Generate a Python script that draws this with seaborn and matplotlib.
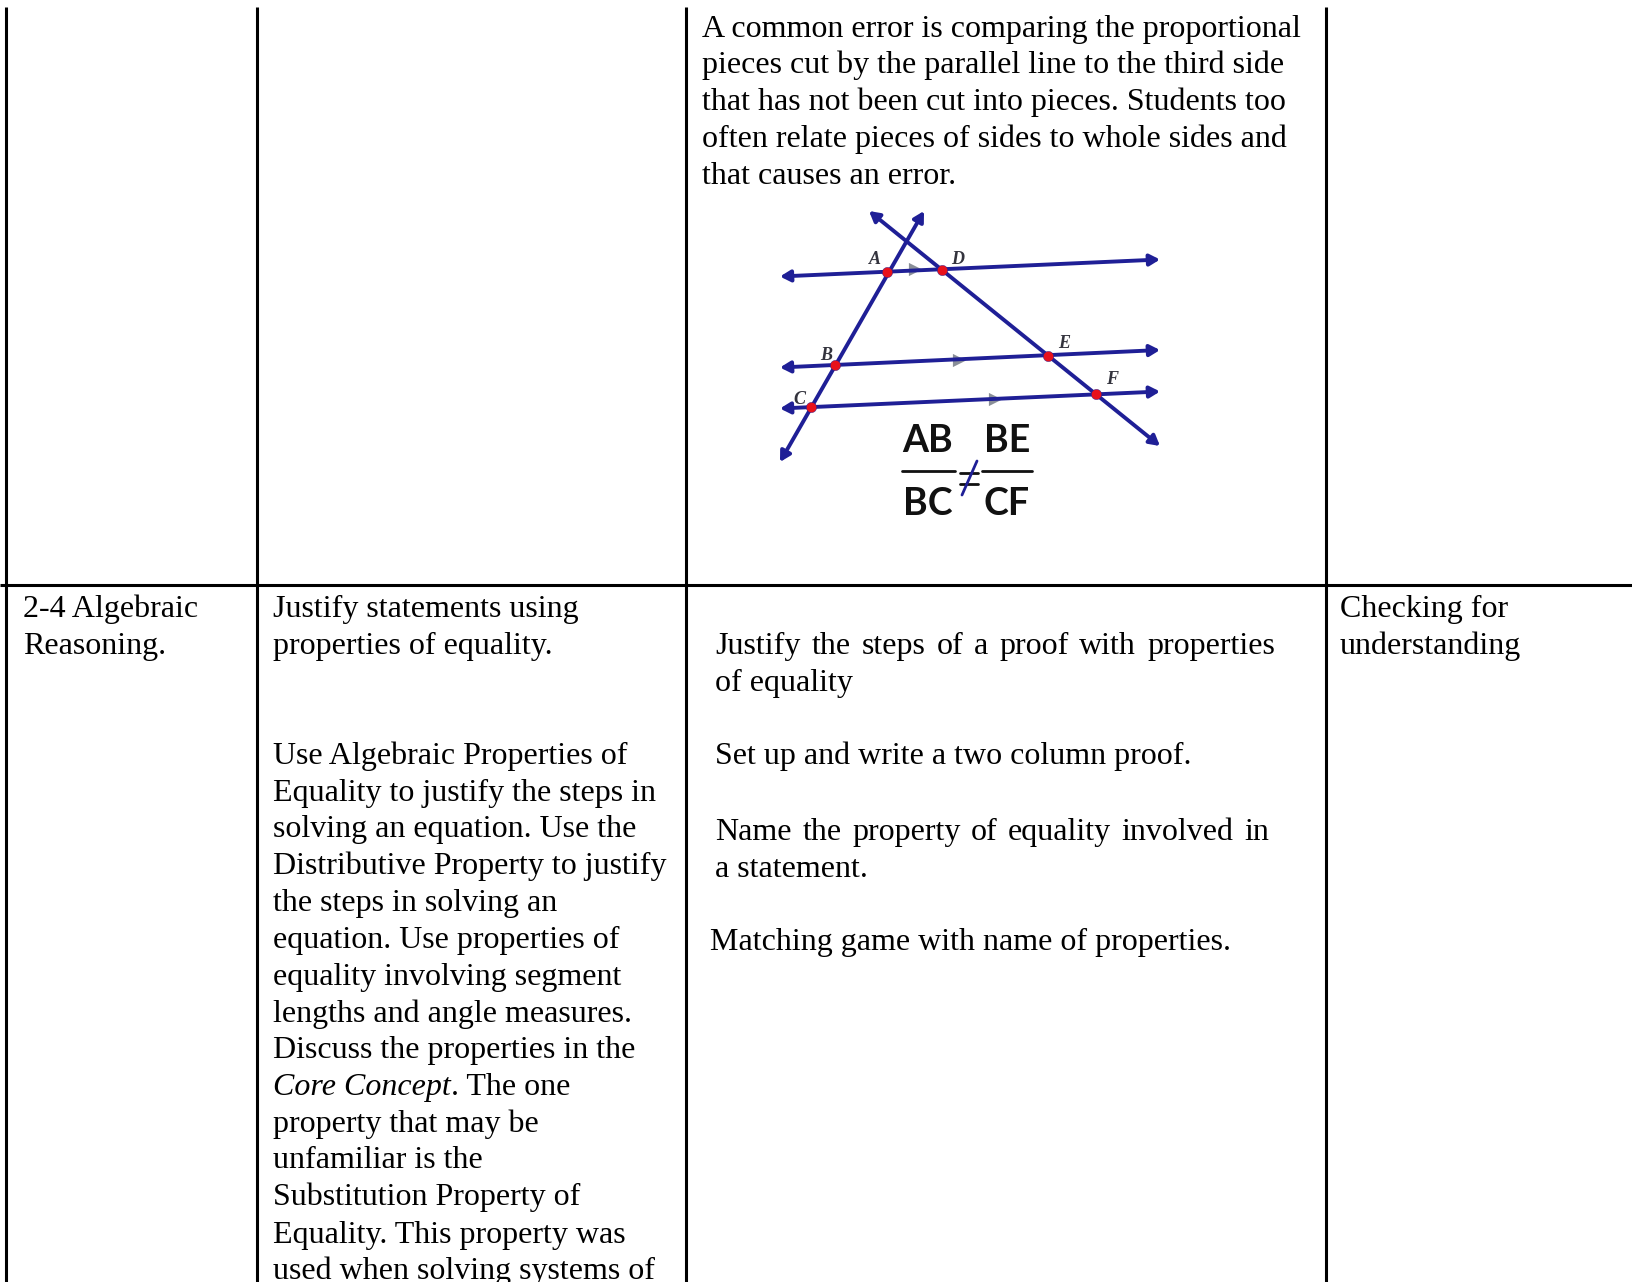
import pandas as pd
import matplotlib
matplotlib.use('Agg')
import matplotlib.pyplot as plt
import seaborn as sns

# table text: (x left, baseline y, text)
top_note = ['A common error is comparing the proportional',
            'pieces cut by the parallel line to the third side',
            'that has not been cut into pieces. Students too',
            'often relate pieces of sides to whole sides and',
            'that causes an error.']
top_note_y = [37, 73.5, 110, 147, 183.5]

col1_lines = ['2-4 Algebraic', 'Reasoning.']
col1_y = [617, 654]

col2_lines = ['Justify statements using', 'properties of equality.',
              'Use Algebraic Properties of', 'Equality to justify the steps in',
              'solving an equation. Use the', 'Distributive Property to justify',
              'the steps in solving an', 'equation. Use properties of',
              'equality involving segment', 'lengths and angle measures.',
              'Discuss the properties in the', None,
              'property that may be', 'unfamiliar is the',
              'Substitution Property of', 'Equality. This property was',
              'used when solving systems of']
col2_y = [617, 654, 764, 801, 837.5, 874, 911, 948, 984.5, 1022, 1058, 1095,
          1132, 1168.5, 1205, 1242.5, 1279]

col3_just = ['Justify the steps of a proof with properties', 'Name the property of equality involved in']
col3_just_y = [654, 840]
col3_just_right = [1275, 1269]
col3_plain = ['of equality', 'Set up and write a two column proof.', 'a statement.']
col3_plain_y = [691, 764, 877]
col3_match = 'Matching game with name of properties.'
col3_match_y = 950

col4_lines = ['Checking for', 'understanding']
col4_y = [617, 654]

# table rules
rule_x = [6.5, 257.5, 686.5, 1326]
rule_y = 585

# geometry figure
points = pd.DataFrame({'name': ['A', 'D', 'B', 'E', 'C', 'F'],
                       'x': [887.5, 942.5, 835.5, 1048.5, 811.5, 1096.5],
                       'y': [272, 269.5, 365, 355.5, 407, 394]})
label_x = [875, 958, 826, 1064, 799, 1112]
label_y = [259, 259, 356, 343, 400, 380]
parallel_left = [(780, 276.5), (780, 367.5), (780, 408.5)]
parallel_right = [(1160, 259.5), (1160, 350), (1160, 391.5)]
transversal_a = [(780, 462), (924, 211)]
transversal_b = [(869, 211), (1160, 446)]
tick_x = [915, 959, 995]
tick_y = [269, 359.5, 398.5]

NAVY = '#1f1f96'
sns.set_theme(style='white')
plt.rcParams['font.family'] = ['Liberation Serif', 'DejaVu Serif']
FS = 23

fig = plt.figure(figsize=(16.33, 12.82), dpi=100)
ax = fig.add_axes([0, 0, 1, 1])
ax.set_xlim(0, 1633)
ax.set_ylim(1282, 0)
ax.axis('off')
renderer = fig.canvas.get_renderer()


def put(x, y, s, **kw):
    return ax.text(x, y, s, fontsize=FS, color='black', va='baseline', ha='left', **kw)


def width(s, **kw):
    t = put(0, 0, s, **kw)
    w = t.get_window_extent(renderer).width
    t.remove()
    return w


def justified(x, y, s, right):
    # Word-processor style justification: spread the words out to the right edge
    words = s.split()
    widths = [width(w) for w in words]
    gap = (right - x - sum(widths)) / (len(words) - 1)
    for w, wd in zip(words, widths):
        put(x, y, w)
        x += wd + gap


# rules
ax.plot([0, 1633], [rule_y, rule_y], color='black', lw=2.2, solid_capstyle='butt')
for x in rule_x:
    ax.plot([x, x], [7, 1282], color='black', lw=2.2, solid_capstyle='butt')

# text columns
for s, y in zip(top_note, top_note_y):
    put(702, y, s)
for s, y in zip(col1_lines, col1_y):
    put(23, y, s)
for s, y in zip(col2_lines, col2_y):
    if s is not None:
        put(273, y, s)
    else:
        put(273, y, 'Core Concept', style='italic')
        put(273 + width('Core Concept', style='italic'), y, '. The one')
for s, y, r in zip(col3_just, col3_just_y, col3_just_right):
    justified(715.5, y, s, r)
for s, y in zip(col3_plain, col3_plain_y):
    put(715.5, y, s)
put(710, col3_match_y, col3_match)
for s, y in zip(col4_lines, col4_y):
    put(1340, y, s)

# geometry figure
arrow = dict(arrowstyle='<|-|>,head_length=0.5,head_width=0.28', color=NAVY, lw=2.8, shrinkA=0, shrinkB=0)
for a, b in zip(parallel_left + [transversal_a[0], transversal_b[0]],
                parallel_right + [transversal_a[1], transversal_b[1]]):
    ax.annotate('', xy=b, xytext=a, arrowprops=arrow)
ax.scatter(tick_x, tick_y, marker='>', s=90, color='#8a8f98', linewidths=0, zorder=2)
sns.scatterplot(data=points, x='x', y='y', ax=ax, color='#e8111b', s=55, edgecolor=NAVY,
                linewidth=0.3, legend=False, zorder=4)
ax.set_xlim(0, 1633)
ax.set_ylim(1282, 0)
ax.axis('off')
for n, x, y in zip(points['name'], label_x, label_y):
    ax.text(x, y, n, fontsize=13, style='italic', weight='bold', color='#33333d',
            ha='center', va='center')

# the fraction under the figure
for s, x, y in zip(['AB', 'BE', 'BC', 'CF'], [928, 1007, 928, 1007], [441, 441, 504, 504]):
    ax.text(x, y, s, fontsize=27, weight='bold', family='Lato', color='#111111',
            ha='center', va='center')
ax.plot([902, 955], [471, 471], color='#111111', lw=2)
ax.plot([982, 1032], [471, 471], color='#111111', lw=2)
ax.plot([960, 978], [473, 473], color='#111111', lw=2)
ax.plot([960, 978], [484, 484], color='#111111', lw=2)
ax.plot([977, 962], [461, 495], color=NAVY, lw=2)

fig.savefig('out.png', dpi=100)
